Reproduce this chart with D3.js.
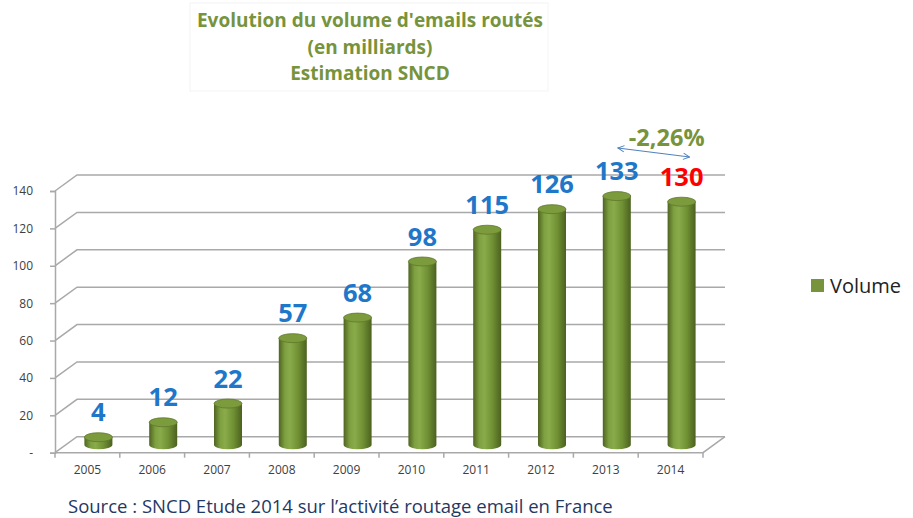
<!DOCTYPE html>
<html>
<head>
<meta charset="utf-8">
<script src="https://cdn.jsdelivr.net/npm/d3@7"></script>
<style>
  html, body { margin: 0; padding: 0; background: #fff; }
  svg { display: block; font-family: 'Open Sans', sans-serif; }
</style>
</head>
<body>
<svg id="chart" width="913" height="518"></svg>
<script>
const years = ['2005', '2006', '2007', '2008', '2009', '2010', '2011', '2012', '2013', '2014'];
const volumes = [4, 12, 22, 57, 68, 98, 115, 126, 133, 130];
const yTicks = [0, 20, 40, 60, 80, 100, 120, 140];
const titleLines = ["Evolution du volume d'emails routés", '(en milliards)', 'Estimation SNCD'];
const highlightYear = '2014';
const changeLabel = '-2,26%';
const seriesName = 'Volume';
const sourceText = 'Source : SNCD Etude 2014 sur l\u2019activité routage email en France';

const svg = d3.select('#chart');

// oblique 3d offset: back wall is shifted right/up from the front plane
const depth = { dx: 22, dy: -16 };
const x = d3.scaleBand().domain(years).range([55, 703]);
const y = d3.scaleLinear().domain([0, 140]).range([452.7, 191]);

// gradient for the cylinders
const defs = svg.append('defs');
const grad = defs.append('linearGradient').attr('id', 'cyl').attr('x1', 0).attr('x2', 1).attr('y1', 0).attr('y2', 0);
[['0%', '#4e6422'], ['22%', '#7fa040'], ['40%', '#8aab4a'], ['70%', '#6f8f33'], ['100%', '#4b611f']]
    .forEach(([o, c]) => grad.append('stop').attr('offset', o).attr('stop-color', c));
defs.append('marker').attr('id', 'arr').attr('viewBox', '0 0 10 10').attr('refX', 9).attr('refY', 5)
    .attr('markerWidth', 8).attr('markerHeight', 8).attr('orient', 'auto-start-reverse')
    .append('path').attr('d', 'M1,1 L9,5 L1,9').attr('fill', 'none').attr('stroke', '#4f81bd').attr('stroke-width', 1.2);

// title box + title
svg.append('rect').attr('x', 190).attr('y', 3).attr('width', 358).attr('height', 88)
    .attr('fill', '#fff').attr('stroke', '#f4f4f4');
svg.append('g').selectAll('text').data(titleLines).join('text')
    .attr('x', 370).attr('y', (d, i) => 27 + i * 26.5)
    .attr('text-anchor', 'middle').attr('font-weight', 700).attr('font-size', 19)
    .attr('fill', '#77933c').text((d) => d);

// gridlines (front diagonal + back wall line)
const gridColor = '#a9a9a9';
const grid = svg.append('g').attr('fill', 'none').attr('stroke', gridColor).attr('stroke-width', 1.5);
grid.selectAll('path').data(yTicks).join('path')
    .attr('d', (v) => {
        const x0 = x.range()[0], yv = y(v);
        return `M${x0},${yv} L${x0 + depth.dx},${yv + depth.dy} L${x.range()[1] + depth.dx},${yv + depth.dy}`;
    });

// floor front edge and right side
const floorY = y(0);
grid.append('path').attr('d', `M${x.range()[0]},${floorY} L${x.range()[1]},${floorY} L${x.range()[1] + depth.dx},${floorY + depth.dy}`);

// y axis on the front plane
const yAxis = d3.axisLeft(y).tickValues(yTicks).tickSize(5).tickPadding(17)
    .tickFormat((d) => (d === 0 ? '-' : d));
const ya = svg.append('g').attr('transform', `translate(${x.range()[0]},0)`).call(yAxis);
ya.select('.domain').attr('stroke', gridColor).attr('stroke-width', 1.5);
ya.selectAll('.tick line').attr('stroke', gridColor).attr('stroke-width', 1.5);
ya.selectAll('.tick text').attr('font-size', 12).attr('fill', '#404040').attr('font-family', "'Open Sans', sans-serif");

// x axis labels and boundary ticks
const xa = svg.append('g');
xa.selectAll('line').data(years.concat(['end'])).join('line')
    .attr('x1', (d, i) => x.range()[0] + i * x.step()).attr('x2', (d, i) => x.range()[0] + i * x.step())
    .attr('y1', floorY).attr('y2', floorY + 5).attr('stroke', gridColor).attr('stroke-width', 1.5);
xa.selectAll('text').data(years).join('text')
    .attr('x', (d) => x(d) + x.bandwidth() / 2).attr('y', floorY + 21)
    .attr('text-anchor', 'middle').attr('font-size', 12).attr('fill', '#404040').text((d) => d);

// cylinders, placed at mid depth
const rx = 14, ry = 4.5;
const midX = (d) => x(d) + x.bandwidth() / 2 + depth.dx / 2;
const midY = (v) => y(v) + depth.dy / 2;
const data = years.map((yr, i) => ({ yr, v: volumes[i] }));

const cyl = svg.append('g').selectAll('g').data(data).join('g');
cyl.append('path')
    .attr('d', (d) => {
        const cx = midX(d.yr), top = midY(d.v), base = midY(0);
        return `M${cx - rx},${top} L${cx - rx},${base} A${rx},${ry} 0 0 0 ${cx + rx},${base} L${cx + rx},${top} Z`;
    })
    .attr('fill', 'url(#cyl)');
cyl.append('ellipse')
    .attr('cx', (d) => midX(d.yr)).attr('cy', (d) => midY(d.v))
    .attr('rx', rx).attr('ry', ry)
    .attr('fill', '#7b9b3d').attr('stroke', '#5e782c').attr('stroke-width', 0.8);

// value labels
svg.append('g').selectAll('text').data(data).join('text')
    .attr('x', (d) => midX(d.yr)).attr('y', (d) => midY(d.v) - 16)
    .attr('text-anchor', 'middle').attr('font-weight', 700).attr('font-size', 25.5)
    .attr('fill', (d) => (d.yr === highlightYear ? '#ff0000' : '#1f77c9'))
    .text((d) => d.v);

// change annotation between the last two years
const a0 = midX(years[8]) + 1, a1 = midX(years[9]) + 8;
svg.append('line').attr('x1', a0).attr('y1', 148).attr('x2', a1).attr('y2', 157)
    .attr('stroke', '#4f81bd').attr('stroke-width', 1)
    .attr('marker-start', 'url(#arr)').attr('marker-end', 'url(#arr)');
svg.append('text').attr('x', (a0 + a1) / 2 + 13).attr('y', 146)
    .attr('text-anchor', 'middle').attr('font-weight', 700).attr('font-size', 23.5)
    .attr('fill', '#77933c').text(changeLabel);

// legend
const lg = svg.append('g').attr('transform', 'translate(811,279)');
lg.append('rect').attr('width', 13).attr('height', 13).attr('fill', '#77933c');
lg.append('text').attr('x', 19).attr('y', 14).attr('font-size', 20).attr('fill', '#222').text(seriesName);

// source
svg.append('text').attr('x', 68).attr('y', 513).attr('font-size', 18.5).attr('fill', '#1f3864').text(sourceText);
</script>
</body>
</html>
